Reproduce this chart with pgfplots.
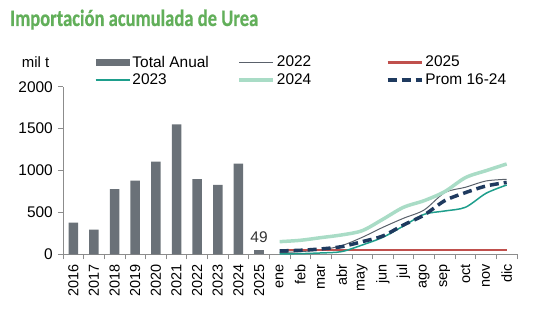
\documentclass[border=0pt]{standalone}
\usepackage{pgfplots}
\pgfplotsset{compat=1.18}
\usepackage{fontspec}
\setmainfont{Liberation Sans}
\newfontfamily\titlefont[FakeBold=0.6]{Carlito Bold}
\definecolor{bargray}{HTML}{6A7178}
\definecolor{axisgray}{HTML}{8C8C8C}
\definecolor{c22}{HTML}{5A616B}
\definecolor{c23}{HTML}{1E9E8C}
\definecolor{c24}{HTML}{A9DCC6}
\definecolor{c25}{HTML}{C0504D}
\definecolor{cprom}{HTML}{1F3A5F}
\definecolor{titlegreen}{HTML}{62AF5A}
\pgfplotstableread{
x y
0 377
1 294
2 779
3 878
4 1105
5 1551
6 898
7 827
8 1081
}\bars
\pgfplotstableread{
x y
9 49
}\barsb
\pgfplotstableread{
x a22 a23 a24 a25 prom
10 20 4 151 49 40
11 32 8 167 49 48
12 52 16 199 49 64
13 103 32 231 49 91
14 203 111 282 49 151
15 322 203 418 49 219
16 430 338 561 49 350
17 529 477 640 49 469
18 736 517 748 49 640
19 800 561 915 49 736
20 875 728 998 49 815
21 895 827 1078 49 858
}\months
\begin{document}
\fontsize{15}{18}\selectfont
\begin{tikzpicture}
\useasboundingbox (0,0) rectangle (539bp,327bp);
\node[anchor=base west, inner sep=0, text=titlegreen] at (10bp,301bp) {\resizebox{248bp}{\height}{\fontsize{23.5}{26}\titlefont Importación acumulada de Urea}};
\node[anchor=base, inner sep=0] at (35.5bp,259.3bp) {mil t};
\begin{axis}[
  at={(63bp,72.7bp)}, anchor=south west,
  scale only axis, width=454bp, height=167.6bp,
  xmin=-0.5, xmax=21.5, ymin=0, ymax=2000,
  axis lines=left, axis line style={-, draw=axisgray, line width=0.8bp},
  tick style={draw=axisgray, line width=0.8bp},
  tick align=outside, major tick length=5bp,
  ytick={0,500,1000,1500,2000},
  xtick={-0.5,0.5,...,21.5},
  x tick label as interval,
  xticklabels={2016,2017,2018,2019,2020,2021,2022,2023,2024,2025,ene,feb,mar,abr,may,jun,jul,ago,sep,oct,nov,dic},
  xticklabel style={rotate=90, anchor=east, font=\fontsize{14.5}{16}\selectfont},
  yticklabel style={font=\fontsize{15.5}{17}\selectfont},
  /pgf/number format/assume math mode=true,
  /pgf/number format/1000 sep={},
  legend columns=3,
  legend cell align=left,
  legend style={at={(0.07,1.197)}, anchor=north west, draw=none, fill=none,
    font=\fontsize{15.5}{17}\selectfont, inner sep=0pt, row sep=0bp,
    /tikz/every odd column/.append style={column sep=0bp}},
  clip=false,
]
\addplot[ybar, bar width=9.5bp, fill=bargray, draw=none, bar shift=0pt,
  legend image code/.code={\fill[bargray] (0bp,-3.5bp) rectangle (34bp,3.5bp);}]
  table[x=x,y=y]{\bars};
\addlegendentry{\makebox[103bp][l]{Total Anual}}
\addplot[c22, line width=1bp, smooth,
  legend image code/.code={\draw[c22, line width=1bp] (0bp,0bp) -- (34bp,0bp);}]
  table[x=x,y=a22]{\months};
\addlegendentry{\makebox[107bp][l]{2022}}
\addplot[c25, line width=2.5bp,
  legend image code/.code={\draw[c25, line width=2.5bp] (0bp,0bp) -- (34bp,0bp);}]
  table[x=x,y=a25]{\months};
\addlegendentry{2025}
\addplot[c23, line width=1.5bp, smooth,
  legend image code/.code={\draw[c23, line width=1.5bp] (0bp,0bp) -- (34bp,0bp);}]
  table[x=x,y=a23]{\months};
\addlegendentry{\makebox[103bp][l]{2023}}
\addplot[c24, line width=3.5bp, smooth,
  legend image code/.code={\draw[c24, line width=3.5bp] (0bp,0bp) -- (34bp,0bp);}]
  table[x=x,y=a24]{\months};
\addlegendentry{\makebox[107bp][l]{2024}}
\addplot[cprom, line width=3.5bp, smooth, dash pattern=on 9bp off 5bp,
  legend image code/.code={\draw[cprom, line width=3.5bp, dash pattern=on 9bp off 5bp] (0bp,0bp) -- (34bp,0bp);}]
  table[x=x,y=prom]{\months};
\addlegendentry{Prom 16-24}
\addplot[ybar, bar width=9.5bp, fill=bargray, draw=none, bar shift=0pt, forget plot,
  nodes near coords, nodes near coords style={font=\fontsize{15.5}{17}\selectfont, text=black!80, anchor=south, yshift=2bp}]
  table[x=x,y=y]{\barsb};
\end{axis}
\end{tikzpicture}
\end{document}
